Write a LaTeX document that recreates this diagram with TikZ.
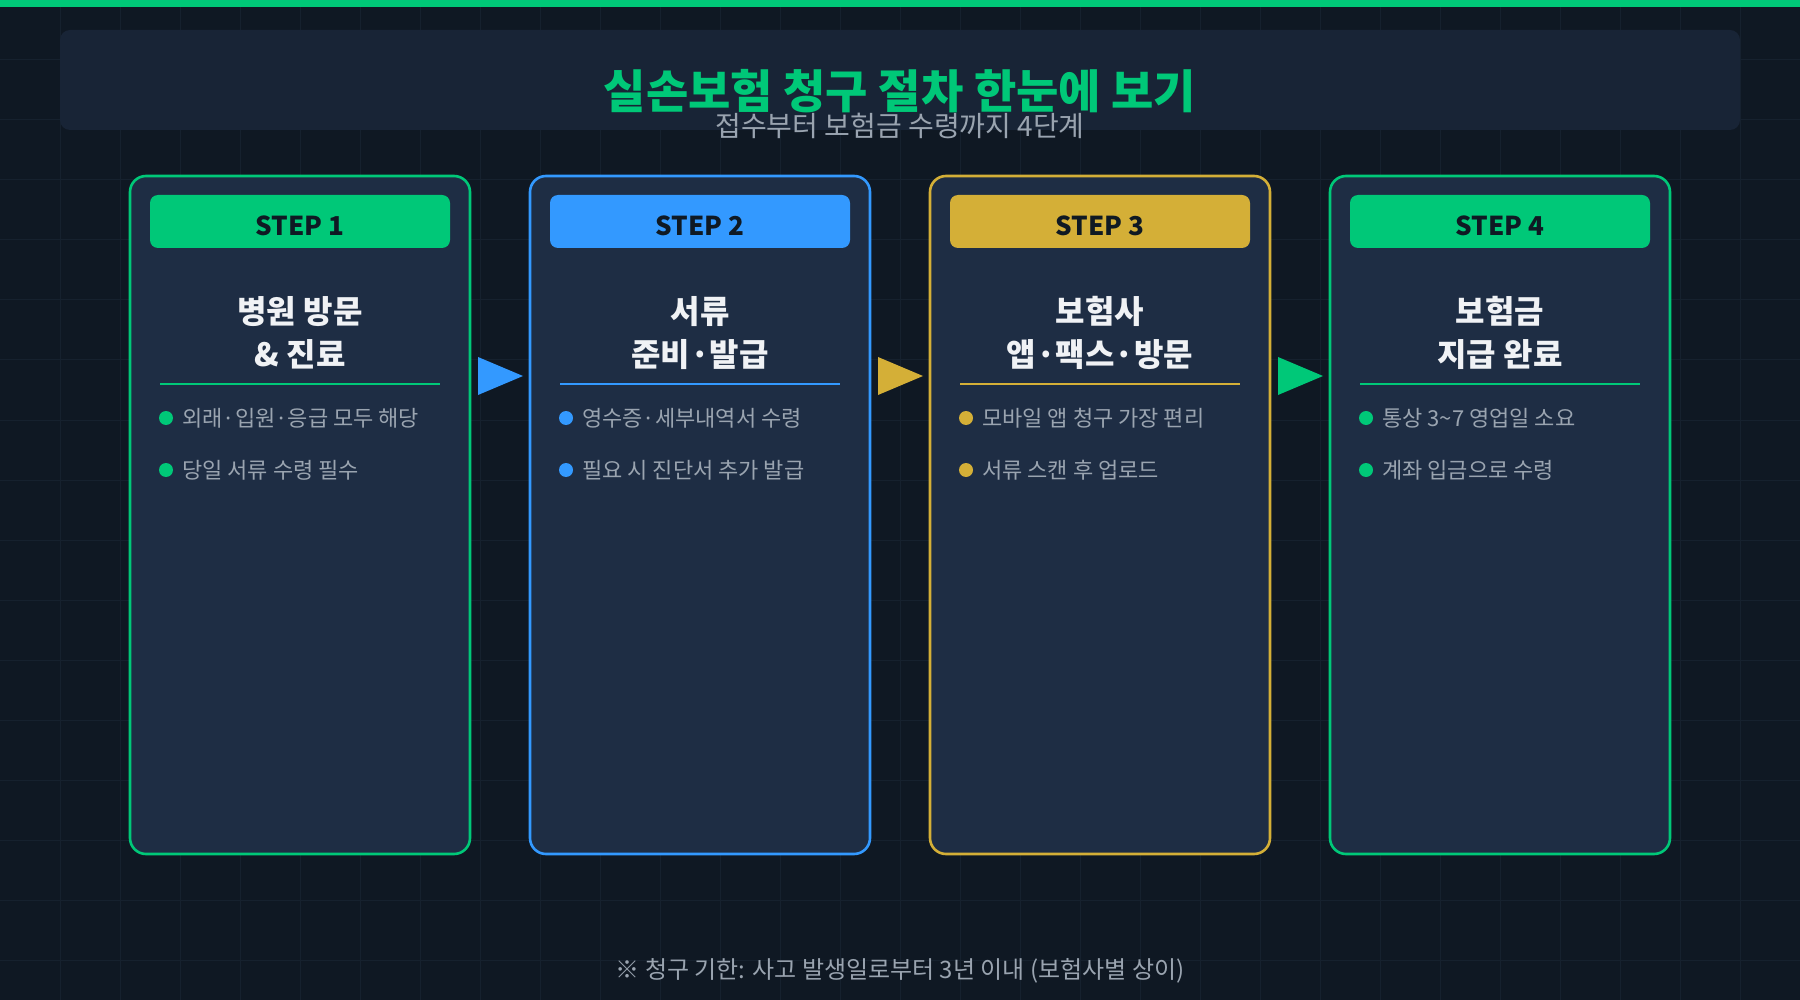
\documentclass[tikz,border=0pt]{standalone}
\usepackage{fontspec}
\setmainfont{Noto Sans CJK KR}
\definecolor{bg}{HTML}{0F1823}
\definecolor{gridc}{HTML}{16212E}
\definecolor{panel}{HTML}{182436}
\definecolor{cardbg}{HTML}{1E2D44}
\definecolor{cgreen}{HTML}{00C878}
\definecolor{cblue}{HTML}{3399FF}
\definecolor{cgold}{HTML}{D4AF37}
\definecolor{txtgray}{HTML}{9AA4B0}
\definecolor{darktxt}{HTML}{0F1923}
\definecolor{whitetxt}{HTML}{F0F2F5}
\tikzset{
  cardbox/.style={draw=#1, line width=2.6pt, fill=cardbg, rounded corners=16pt, minimum width=340pt, minimum height=678pt, inner sep=0pt},
  badgebox/.style={fill=#1, rounded corners=8pt, minimum width=300pt, minimum height=53pt, inner sep=0pt},
  badgetext/.style={text=darktxt, inner sep=0pt, font=\fontsize{26pt}{30pt}\selectfont\bfseries},
  ctitle/.style={text=whitetxt, align=center, inner sep=0pt, font=\fontsize{32pt}{43pt}\selectfont\bfseries},
  btext/.style={text=txtgray, anchor=west, inner sep=0pt, font=\fontsize{22pt}{26pt}\selectfont},
  divline/.style={draw=#1, line width=2pt},
  bdot/.style={fill=#1},
  arrowtri/.style={fill=#1}
}
\begin{document}
\begin{tikzpicture}[x=1pt,y=-1pt]
\useasboundingbox (0,0) rectangle (1800,1000);
\fill[bg] (0,0) rectangle (1800,1000);
\foreach \gx in {60,120,...,1740} \draw[gridc, line width=1pt] (\gx,0) -- (\gx,1000);
\foreach \gy in {60,120,...,960} \draw[gridc, line width=1pt] (0,\gy) -- (1800,\gy);
\fill[cgreen] (0,0) rectangle (1800,7);
% header
\node[fill=panel, rounded corners=10pt, minimum width=1680pt, minimum height=100pt, inner sep=0pt] (header) at (900,80) {};
\node[text=cgreen, inner sep=0pt, font=\fontsize{46pt}{52pt}\selectfont\bfseries] (title) at (900,91) {실손보험 청구 절차 한눈에 보기};
\node[text=txtgray, inner sep=0pt, font=\fontsize{28pt}{32pt}\selectfont] (subtitle) at (900,126) {접수부터 보험금 수령까지 4단계};
% cards
\foreach \i/\cx/\col in {1/300/cgreen,2/700/cblue,3/1100/cgold,4/1500/cgreen}{
  \node[cardbox=\col] (card\i) at (\cx,515) {};
  \node[badgebox=\col] (badge\i) at (\cx,221.5) {};
  \node[badgetext] (step\i) at (\cx,226) {STEP \i};
  \draw[divline=\col] (\cx-140,384) -- (\cx+140,384);
  \fill[bdot=\col] (\cx-134,418) circle (7);
  \fill[bdot=\col] (\cx-134,470) circle (7);
}
\node[ctitle] (title1) at (300,333) {병원 방문\\\& 진료};
\node[ctitle] (title2) at (700,333) {서류\\준비·발급};
\node[ctitle] (title3) at (1100,333) {보험사\\앱·팩스·방문};
\node[ctitle] (title4) at (1500,333) {보험금\\지급 완료};
\node[btext] (b1a) at (182,418) {외래·입원·응급 모두 해당};
\node[btext] (b1b) at (182,470) {당일 서류 수령 필수};
\node[btext] (b2a) at (582,418) {영수증·세부내역서 수령};
\node[btext] (b2b) at (582,470) {필요 시 진단서 추가 발급};
\node[btext] (b3a) at (982,418) {모바일 앱 청구 가장 편리};
\node[btext] (b3b) at (982,470) {서류 스캔 후 업로드};
\node[btext] (b4a) at (1382,418) {통상 3\textasciitilde7 영업일 소요};
\node[btext] (b4b) at (1382,470) {계좌 입금으로 수령};
% arrows
\fill[arrowtri=cblue] (478,357) -- (478,395) -- (523,376) -- cycle;
\fill[arrowtri=cgold] (878,357) -- (878,395) -- (923,376) -- cycle;
\fill[arrowtri=cgreen] (1278,357) -- (1278,395) -- (1323,376) -- cycle;
% footer
\node[text=txtgray, inner sep=0pt, font=\fontsize{24pt}{28pt}\selectfont] (footer) at (900,971) {※ 청구 기한: 사고 발생일로부터 3년 이내 (보험사별 상이)};
\end{tikzpicture}
\end{document}
